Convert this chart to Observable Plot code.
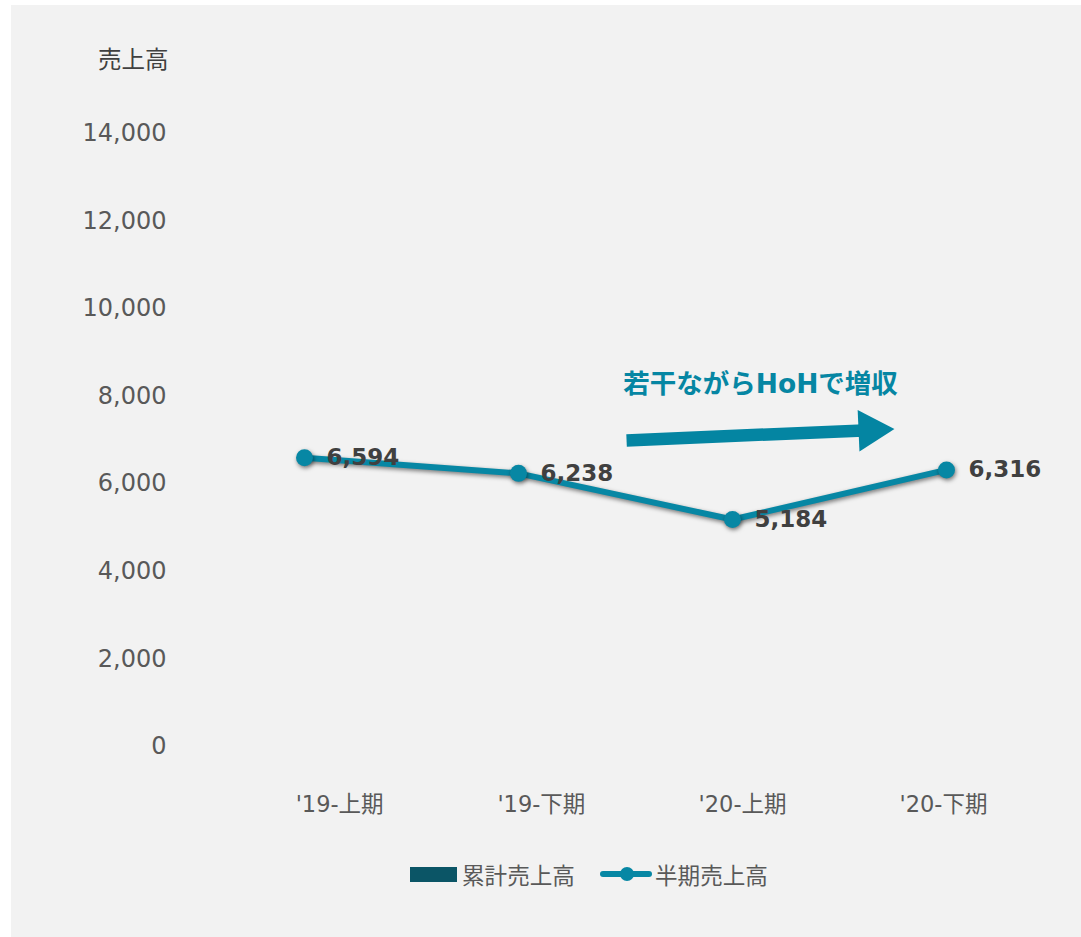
<!DOCTYPE html>
<html><head><meta charset="utf-8">
<script src="https://cdn.jsdelivr.net/npm/d3@7"></script>
<script src="https://cdn.jsdelivr.net/npm/@observablehq/plot@0.6"></script>
<style>
body{margin:0;background:#ffffff;}
#panel{position:absolute;left:11px;top:5px;width:1070px;height:932px;background:#f2f2f2;font-family:"DejaVu Sans","Noto Sans CJK JP",sans-serif;}
#chart{position:absolute;left:0;top:0;}
#legend{position:absolute;left:399px;top:854px;height:30px;display:flex;align-items:center;font-size:22.6px;color:#595959;white-space:nowrap;}
#legend .sw-bar{display:inline-block;width:47px;height:15px;background:#0b5566;margin-right:5px;}
#legend svg{margin-left:25px;margin-right:3px;}
</style>
</head><body>
<div id="panel"><div id="chart"></div><div id="legend"></div></div>
<script>
// ---- data ----
const periods = ["'19-上期", "'19-下期", "'20-上期", "'20-下期"];
const halfSales = [6594, 6238, 5184, 6316];
const yTicks = [0, 2000, 4000, 6000, 8000, 10000, 12000, 14000];
const seriesNames = ["累計売上高", "半期売上高"];
const axisTitle = "売上高";
const annotationText = "若干ながらHoHで増収";
// category label anchors (x in period-index units, as placed in the picture)
const periodLabelX = [0.164, 1.107, 2.047, 2.986];
// annotation anchors in data space (x = period index, y = sales)
const arrowShaft = [{x1: 1.505, y1: 6990, x2: 2.64, y2: 7225}];
const arrowHead = [{x: 2.645, y: 7225}];
const annotationAnchor = [{x: 2.131, y: 8268}];

const rows = periods.map((p, i) => ({i, period: p, value: halfSales[i]}));
const labelRows = periods.map((p, i) => ({x: periodLabelX[i], label: p}));
const lineColor = "#0787a4";
const arrowColor = "#0485a2";
const fontFam = '"DejaVu Sans","Noto Sans CJK JP",sans-serif';

const chart = Plot.plot({
  width: 1070,
  height: 830,
  marginLeft: 186,
  marginRight: 28,
  marginTop: 128,
  marginBottom: 89,
  style: {background: "transparent", fontFamily: fontFam, overflow: "visible"},
  x: {type: "linear", domain: [-0.5, 3.5], axis: null},
  y: {domain: [0, 14000]},
  marks: [
    Plot.axisY({ticks: yTicks, tickFormat: d3.format(","), tickSize: 0, tickPadding: 31, fontSize: 24, fill: "#595959", label: null}),
    Plot.text(labelRows, {x: "x", text: "label", frameAnchor: "bottom", dy: 65, fontSize: 22.5, fill: "#595959"}),
    Plot.text([axisTitle], {frameAnchor: "top-left", textAnchor: "end", dx: -29, dy: -82, fontSize: 23.5, fill: "#404040"}),
    Plot.link(arrowShaft, {x1: "x1", y1: "y1", x2: "x2", y2: "y2", stroke: arrowColor, strokeWidth: 12.5, strokeLinecap: "butt"}),
    Plot.dot(arrowHead, {x: "x", y: "y", symbol: "triangle", r: 15.4, rotate: 87.5, fill: arrowColor, stroke: "none"}),
    Plot.text(annotationAnchor, {x: "x", y: "y", text: () => annotationText, fontSize: 26.5, fontWeight: "bold", fill: "#0686a3"}),
    Plot.line(rows, {x: "i", y: "value", stroke: lineColor, strokeWidth: 6}),
    Plot.dot(rows, {x: "i", y: "value", r: 8.5, fill: lineColor, stroke: "none"}),
    Plot.text(rows, {x: "i", y: "value", text: d => d3.format(",")(d.value), textAnchor: "start", dx: 22, fontSize: 23, fontWeight: "bold", fill: "#404040"})
  ]
});
document.getElementById("chart").appendChild(chart);

// soft shadow under the series line and its markers
const lineG = chart.querySelector('g[aria-label="line"]');
if (lineG) lineG.style.filter = "drop-shadow(1px 2px 2px rgba(0,0,0,0.5))";
const dotGs = chart.querySelectorAll('g[aria-label="dot"]');
if (dotGs.length) dotGs[dotGs.length - 1].style.filter = "drop-shadow(1px 2px 2px rgba(0,0,0,0.5))";

// legend
const legend = document.getElementById("legend");
legend.innerHTML =
  `<span class="sw-bar"></span><span>${seriesNames[0]}</span>` +
  `<svg width="52" height="16" viewBox="0 0 52 16"><line x1="3" y1="8" x2="49" y2="8" stroke="${lineColor}" stroke-width="6" stroke-linecap="round"/><circle cx="27" cy="8" r="7" fill="${lineColor}"/></svg>` +
  `<span>${seriesNames[1]}</span>`;
</script>
</body></html>
